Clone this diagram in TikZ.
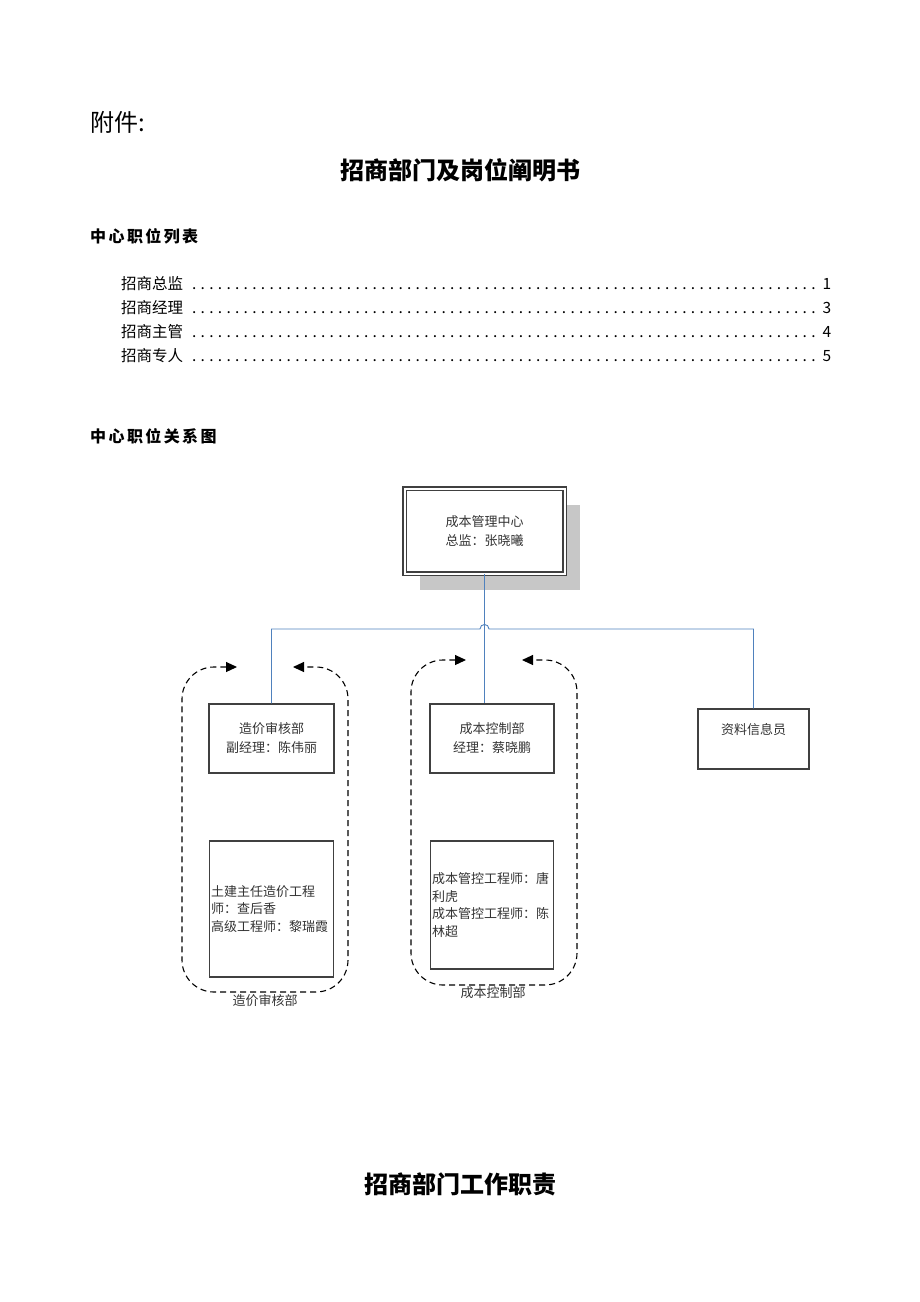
\documentclass[tikz,border=0pt]{standalone}
\usepackage{fontspec}
\setmainfont{Noto Sans CJK SC}
\newfontfamily\spacedfont[LetterSpace=15]{Noto Sans CJK SC}
\usepackage{xcolor}
\usetikzlibrary{arrows.meta, shadows, positioning}

\definecolor{linkblue}{HTML}{4F81BD}
\newcommand\tocdots{\leaders\hbox to 8.6pt{\hss.\hss}\hfill}

\tikzset{
  box/.style={draw=black!75, line width=1.1pt, text=black!80, inner sep=1.5pt,
    font=\fontsize{13}{19}\selectfont, align=center},
  staffbox/.style={box, font=\fontsize{13}{17.5}\selectfont, align=left, text width=121pt},
  link/.style={draw=linkblue, line width=0.9pt},
  grouploop/.style={dashed, dash pattern=on 6pt off 4pt, line width=1.1pt, rounded corners=32pt,
    {Triangle[length=11pt,width=10pt]}-{Triangle[length=11pt,width=10pt]}},
  looplabel/.style={text=black!80, font=\fontsize{13}{15}\selectfont},
  heading/.style={anchor=west, inner sep=0pt, font=\spacedfont\bfseries\fontsize{16}{18}\selectfont},
  tocline/.style={anchor=west, inner sep=0pt, font=\fontsize{15.5}{18}\selectfont},
}

\begin{document}
\begin{tikzpicture}[x=1pt, y=-1pt]
  \useasboundingbox (0,0) rectangle (920,1302);

  % page headings
  \node[anchor=west, inner sep=0pt, font=\fontsize{24}{28}\selectfont] (annex) at (90,122) {附件:};
  \node[font=\bfseries\fontsize{24}{28}\selectfont] (title) at (460,170) {招商部门及岗位阐明书};
  \node[heading] (listhead) at (90,236) {中心职位列表};
  \foreach \name/\pg [count=\i] in {招商总监/1, 招商经理/3, 招商主管/4, 招商专人/5}
    \node[tocline] (toc\i) at (121,260+24*\i) {\makebox[710pt]{\name\tocdots\pg}};
  \node[heading] (charthead) at (90,436) {中心职位关系图};

  % chart
  \node[box, fill=white, double=white, double distance=2pt, line width=1.3pt,
    minimum width=160pt, minimum height=85pt,
    drop shadow={shadow xshift=15pt, shadow yshift=-16pt, fill=black!22, opacity=1}]
    (center) at (484.5,531) {成本管理中心\\总监：张晓曦};
  \node[box, minimum width=125pt, minimum height=69pt] (audit) at (271.5,738.5) {造价审核部\\副经理：陈伟丽};
  \node[box, minimum width=124pt, minimum height=69pt] (control) at (492,738.5) {成本控制部\\经理：蔡晓鹏};
  \node[box, minimum width=111pt, minimum height=60pt, text depth=20pt] (info) at (753.5,739) {资料信息员};
  \node[staffbox, minimum height=136pt] (auditstaff) at (271.5,909)
    {土建主任造价工程\\师：查后香\\高级工程师：黎瑞霞};
  \node[staffbox, text width=120pt, minimum height=128pt] (controlstaff) at (492,905)
    {成本管控工程师：唐\\利虎\\成本管控工程师：陈\\林超};

  % connectors, the bus hops over the trunk
  \coordinate (bus) at (484.5,629);
  \draw[link] (center.south) -- (center.south |- control.north);
  \draw[link] (audit.north) |- ([xshift=-4.5pt]bus)
    .. controls +(0,-6) and +(0,-6) .. ([xshift=4.5pt]bus) -| (info.north);

  % department groups
  \draw[grouploop] (237,667) -- (182,667) -- (182,992) -- (348,992) -- (348,667) -- (293,667);
  \draw[grouploop] (466,660) -- (411,660) -- (411,985) -- (577,985) -- (577,660) -- (522,660);
  \node[looplabel] (auditlabel) at (265,1001) {造价审核部};
  \node[looplabel] (controllabel) at (493,993) {成本控制部};

  \node[font=\bfseries\fontsize{24}{28}\selectfont] (duties) at (460,1184) {招商部门工作职责};
\end{tikzpicture}
\end{document}
